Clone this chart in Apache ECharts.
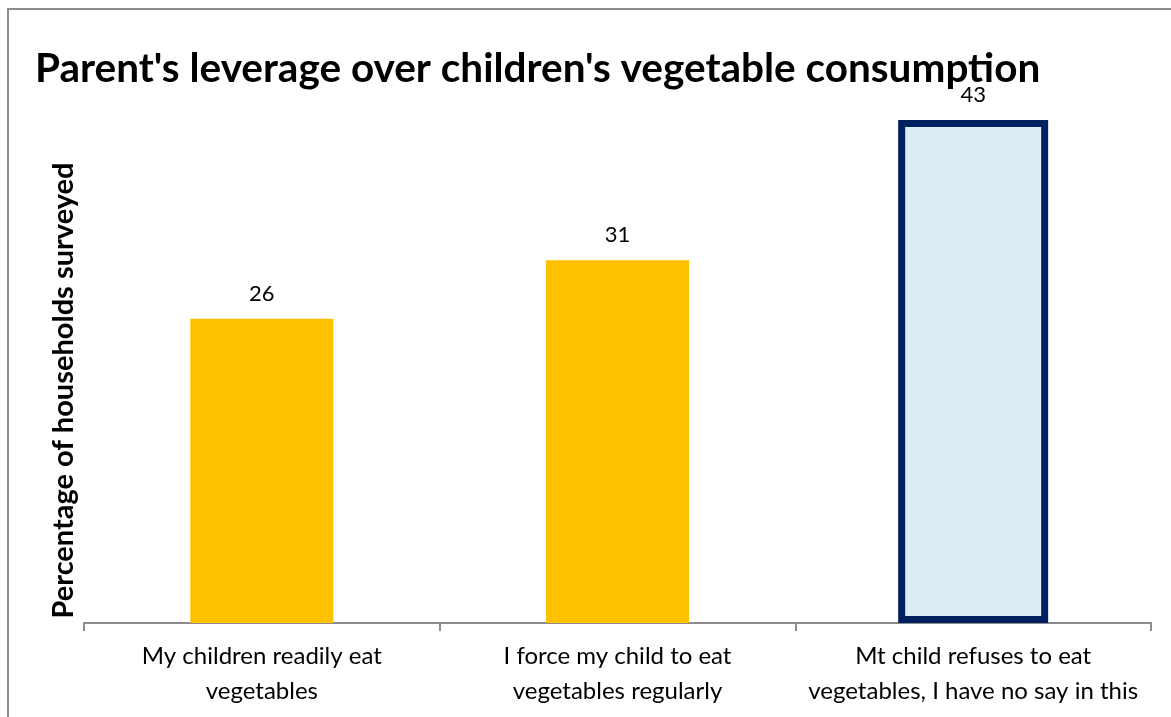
<!DOCTYPE html>
<html>
<head>
<meta charset="utf-8">
<script src="https://cdn.jsdelivr.net/npm/echarts@6/dist/echarts.min.js"></script>
<style>
  html, body { margin: 0; padding: 0; background: #fff; }
  #chart { width: 1171px; height: 717px; }
</style>
</head>
<body>
<div id="chart"></div>
<script>
// chart data
var categories = [
  'My children readily eat\nvegetables',
  'I force my child to eat\nvegetables regularly',
  'Mt child refuses to eat\nvegetables, I have no say in this'
]
var values = [26, 31, 43]
var highlightIndex = 2

var chart = echarts.init(document.getElementById('chart'))

// normal bars and the highlighted bar, each on its own x axis so both stay centred
var normalData = values.map(function (v, i) { return i === highlightIndex ? '-' : v })
var highlightData = values.map(function (v, i) { return i === highlightIndex ? v : '-' })

var labelStyle = {
  show: true,
  position: 'top',
  distance: 14,
  color: '#000',
  fontFamily: 'Lato',
  fontSize: 22
}

chart.setOption({
  backgroundColor: '#fff',
  animation: false,
  textStyle: { fontFamily: 'Lato' },
  graphic: [{
    // chart area border (right/bottom edges fall outside the window)
    type: 'rect',
    shape: { x: 8, y: 9, width: 1200, height: 800 },
    style: { fill: 'none', stroke: '#8c8c8c', lineWidth: 2 },
    silent: true
  }],
  title: {
    text: "Parent's leverage over children's vegetable consumption",
    left: 30,
    top: 43,
    textStyle: {
      fontFamily: 'Lato',
      fontWeight: 'bold',
      fontSize: 40.5,
      color: '#000'
    }
  },
  grid: {
    left: 84,
    right: 20,
    top: 38,
    bottom: 94
  },
  xAxis: [{
    type: 'category',
    data: categories,
    axisLine: { lineStyle: { color: '#8c8c8c', width: 2 } },
    axisTick: { show: true, length: 8, lineStyle: { color: '#8c8c8c', width: 2 } },
    axisLabel: {
      interval: 0,
      color: '#000',
      fontSize: 24,
      lineHeight: 35,
      margin: 16
    }
  }, {
    type: 'category',
    data: categories,
    position: 'bottom',
    show: false
  }],
  yAxis: {
    type: 'value',
    min: 0,
    max: 50,
    axisLabel: { show: false },
    axisTick: { show: false },
    axisLine: { show: false },
    splitLine: { show: false },
    name: 'Percentage of households surveyed',
    nameLocation: 'middle',
    nameGap: 6,
    nameTextStyle: {
      fontFamily: 'Lato',
      fontWeight: 'bold',
      fontSize: 29,
      color: '#000',
      padding: [0, 120, 0, 0]
    }
  },
  series: [{
    type: 'bar',
    xAxisIndex: 0,
    barWidth: 143,
    data: normalData,
    itemStyle: { color: '#ffc000' },
    label: labelStyle
  }, {
    type: 'bar',
    xAxisIndex: 1,
    barWidth: 150,
    data: highlightData,
    itemStyle: { color: '#daeef3', borderColor: '#002060', borderWidth: 7 },
    label: labelStyle
  }]
})
</script>
</body>
</html>
